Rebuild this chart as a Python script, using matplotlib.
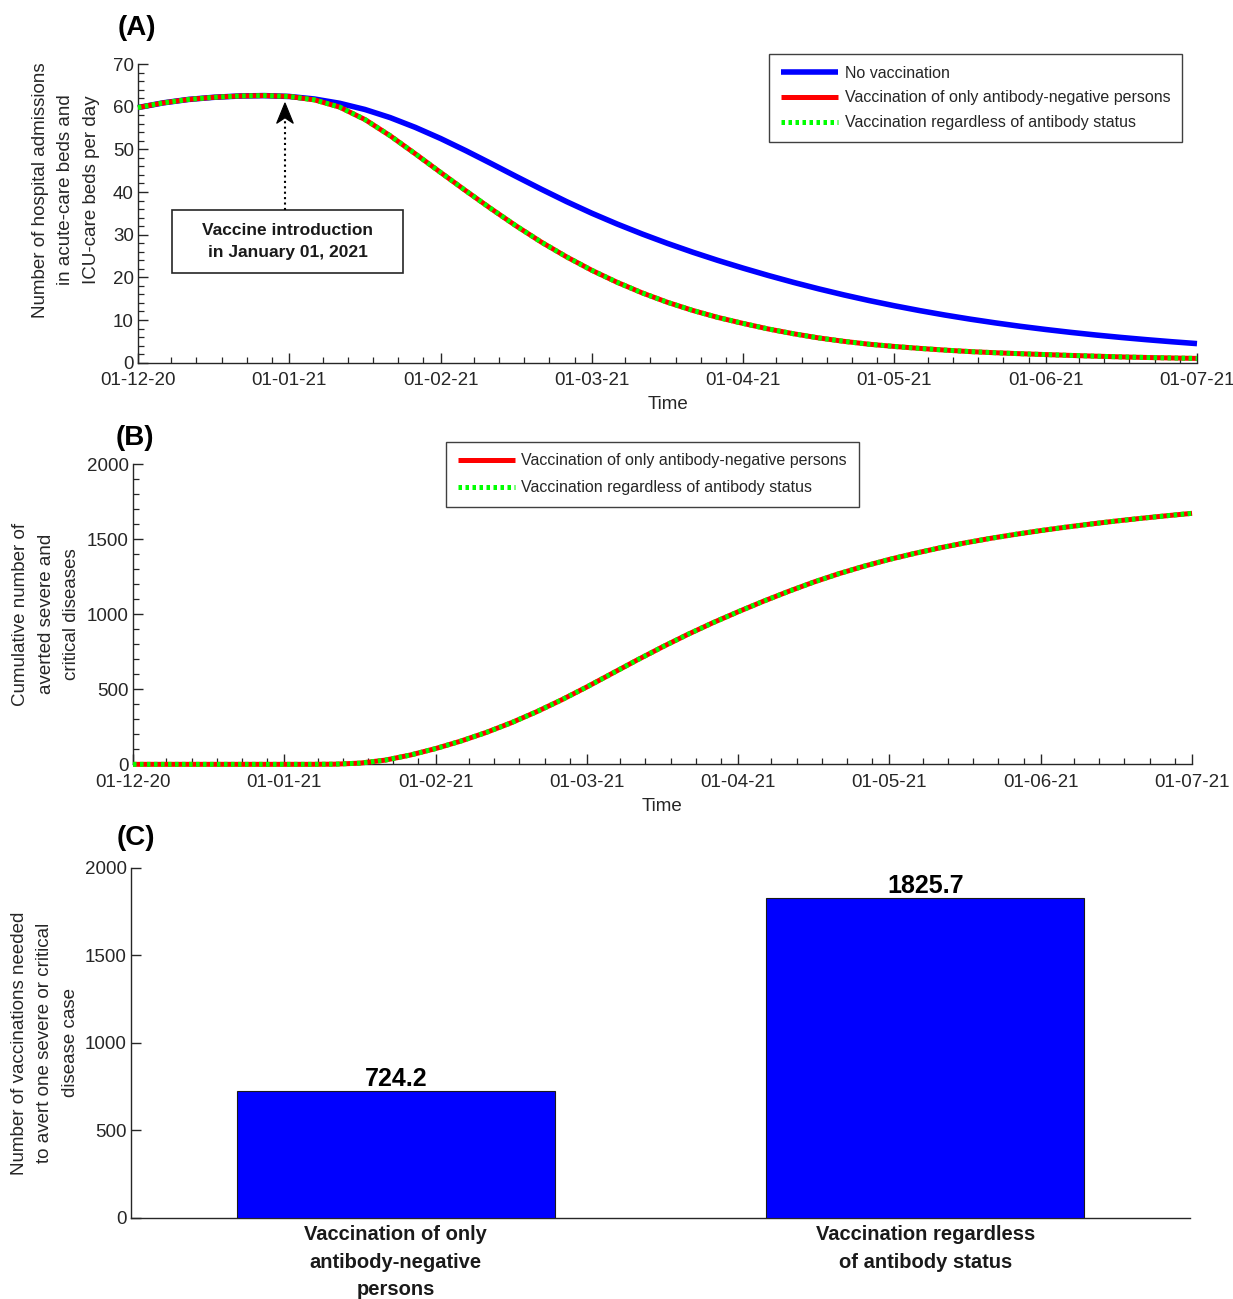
import numpy as np
import matplotlib
matplotlib.use("Agg")
import matplotlib.pyplot as plt
from matplotlib.patches import Rectangle, Polygon

plt.rcParams['font.family'] = ['Liberation Sans', 'DejaVu Sans']

# ---------------------------------------------------------------------------
# Data
# ---------------------------------------------------------------------------
# time in days since 1 December 2020, sampled every 5 days
days = np.arange(0, 211, 5)
month_ticks = np.arange(0, 211, 30)
month_labels = ['01-12-20', '01-01-21', '01-02-21', '01-03-21',
                '01-04-21', '01-05-21', '01-06-21', '01-07-21']

# daily hospital admissions (acute-care + ICU)
admissions_no_vacc = [59.8, 60.9, 61.7, 62.2, 62.5, 62.6, 62.4, 61.8, 60.8, 59.35,
                      57.45, 55.15, 52.55, 49.7, 46.7, 43.65, 40.65, 37.75, 35.03, 32.51,
                      30.16, 27.96, 25.90, 23.97, 22.16, 20.44, 18.82, 17.30, 15.88, 14.56,
                      13.34, 12.21, 11.17, 10.21, 9.33, 8.52, 7.78, 7.10, 6.48, 5.91,
                      5.39, 4.91, 4.47]
admissions_ab_negative = [59.8, 60.9, 61.7, 62.2, 62.5, 62.6, 62.4, 61.6, 59.9, 57.0,
                          53.2, 48.95, 44.6, 40.3, 36.1, 32.05, 28.25, 24.8, 21.65, 18.85,
                          16.35, 14.15, 12.25, 10.6, 9.2, 7.9, 6.78, 5.8, 5.0, 4.32,
                          3.8, 3.35, 2.95, 2.6, 2.33, 2.1, 1.9, 1.7, 1.52, 1.35,
                          1.22, 1.1, 1.0]
admissions_regardless = list(admissions_ab_negative)

# cumulative averted severe and critical disease cases
averted_ab_negative = [0, 0, 0, 0, 0, 0, 0, 0, 1, 8,
                       28, 62, 105, 155, 212, 277, 350, 430, 516, 606,
                       696, 783, 866, 944, 1017, 1087, 1153, 1215, 1271, 1321,
                       1366, 1406, 1443, 1476, 1506, 1533, 1558, 1581, 1602, 1622,
                       1640, 1657, 1673]
averted_regardless = list(averted_ab_negative)

# vaccinations needed to avert one severe or critical disease case
strategies = ['Vaccination of only\nantibody-negative\npersons',
              'Vaccination regardless\nof antibody status']
vacc_per_case = [724.2, 1825.7]

series_labels = ['No vaccination',
                 'Vaccination of only antibody-negative persons',
                 'Vaccination regardless of antibody status']

# ---------------------------------------------------------------------------
# Style
# ---------------------------------------------------------------------------
AX_COL = '#262626'
TICK_FS = 13.5
LABEL_FS = 13.5
LEG_FS = 11.5
BLUE = '#0000FF'
RED = '#FF0000'
GREEN = '#00FF00'
DOTS = (0, (0.7, 0.7))
YLAB_SPACING = 1.66


def style_axes(ax, minor_y=None, time_axis=True):
    for side in ('top', 'right'):
        ax.spines[side].set_visible(False)
    for side in ('left', 'bottom'):
        ax.spines[side].set_color(AX_COL)
        ax.spines[side].set_linewidth(1.0)
    ax.tick_params(which='major', direction='in', length=7, width=1.0,
                   colors=AX_COL, labelsize=TICK_FS)
    ax.tick_params(which='minor', direction='in', length=4, width=0.9,
                   colors=AX_COL)
    ax.tick_params(axis='x', which='major', pad=7)
    ax.tick_params(axis='y', which='major', pad=3)
    if minor_y is not None:
        ax.set_yticks(minor_y, minor=True)
    if time_axis:
        ax.set_xlim(0, 210)
        ax.set_xticks(month_ticks)
        ax.set_xticklabels(month_labels)
        minor_x = [m for m in np.arange(1.6, 210, 5)
                   if np.min(np.abs(m - month_ticks)) > 2]
        ax.set_xticks(minor_x, minor=True)


fig = plt.figure(figsize=(12.33, 12.99), dpi=100)

# ---------------------------------------------------------------------------
# (A) daily hospital admissions
# ---------------------------------------------------------------------------
axA = fig.add_axes([0.1119, 0.7208, 0.8589, 0.2299])
axA.plot(days, admissions_no_vacc, color=BLUE, lw=4.0, label=series_labels[0],
         clip_on=False, solid_capstyle='butt', solid_joinstyle='round', zorder=3)
axA.plot(days, admissions_ab_negative, color=RED, lw=3.6, label=series_labels[1],
         clip_on=False, solid_capstyle='butt', solid_joinstyle='round', zorder=4)
axA.plot(days, admissions_regardless, color=GREEN, lw=3.6, ls=DOTS,
         label=series_labels[2], clip_on=False, zorder=5)
axA.set_ylim(0, 70)
axA.set_yticks(np.arange(0, 71, 10))
style_axes(axA, minor_y=np.arange(0, 71, 2))
axA.set_ylabel('Number of hospital admissions\nin acute-care beds and\nICU-care beds per day',
               fontsize=LABEL_FS, color=AX_COL, linespacing=YLAB_SPACING)
axA.yaxis.set_label_coords(-0.036, 0.578)
axA.set_xlabel('Time', fontsize=LABEL_FS, color=AX_COL)
axA.xaxis.label.set_va('center')
axA.xaxis.set_label_coords(0.5005, -0.1416)

legA = axA.legend(loc='upper right', bbox_to_anchor=(0.9858, 1.0335),
                  borderaxespad=0, fontsize=LEG_FS, handlelength=3.6,
                  handletextpad=0.4, labelspacing=0.62, borderpad=0.72,
                  fancybox=False, framealpha=1, edgecolor='#404040')
legA.get_frame().set_linewidth(1.0)
for t in legA.get_texts():
    t.set_color(AX_COL)

# vaccine introduction marker
arrow_x = 29.15
axA.add_patch(Rectangle((6.74, 21.0), 45.8, 14.8, facecolor='white',
                        edgecolor=AX_COL, lw=1.2, zorder=6))
axA.text(29.65, 28.45, 'Vaccine introduction\nin January 01, 2021',
         ha='center', va='center', fontsize=12.5, fontweight='bold',
         color='#1a1a1a', linespacing=1.62, zorder=7)
axA.plot([arrow_x, arrow_x], [35.8, 57.0], color='black', lw=1.5,
         ls=(0, (1, 1.6)), zorder=6)
axA.add_patch(Polygon([(arrow_x, 60.9), (arrow_x - 1.65, 56.1),
                       (arrow_x, 57.4), (arrow_x + 1.65, 56.1)],
                      closed=True, facecolor='black', edgecolor='black',
                      lw=0.8, zorder=7))

# ---------------------------------------------------------------------------
# (B) cumulative averted severe and critical disease cases
# ---------------------------------------------------------------------------
axB = fig.add_axes([0.1079, 0.4116, 0.8589, 0.2310])
axB.plot(days, averted_ab_negative, color=RED, lw=3.6, label=series_labels[1],
         clip_on=False, solid_capstyle='butt', solid_joinstyle='round', zorder=4)
axB.plot(days, averted_regardless, color=GREEN, lw=3.6, ls=DOTS,
         label=series_labels[2], clip_on=False, zorder=5)
axB.set_ylim(0, 2000)
axB.set_yticks(np.arange(0, 2001, 500))
style_axes(axB, minor_y=np.arange(0, 2001, 100))
axB.set_ylabel('Cumulative number of\naverted severe and\ncritical diseases',
               fontsize=LABEL_FS, color=AX_COL, linespacing=YLAB_SPACING)
axB.yaxis.set_label_coords(-0.050, 0.5)
axB.set_xlabel('Time', fontsize=LABEL_FS, color=AX_COL)
axB.xaxis.label.set_va('center')
axB.xaxis.set_label_coords(0.4995, -0.142)

legB = axB.legend(loc='upper left', bbox_to_anchor=(0.2956, 1.0743),
                  borderaxespad=0, fontsize=LEG_FS, handlelength=3.6,
                  handletextpad=0.4, labelspacing=0.75, borderpad=0.72,
                  fancybox=False, framealpha=1, edgecolor='#404040')
legB.get_frame().set_linewidth(1.0)
for t in legB.get_texts():
    t.set_color(AX_COL)

# ---------------------------------------------------------------------------
# (C) vaccinations needed per averted case
# ---------------------------------------------------------------------------
axC = fig.add_axes([0.1062, 0.0624, 0.8589, 0.2694])
positions = [1, 2]
axC.bar(positions, vacc_per_case, width=0.6, color=BLUE, edgecolor='#1a1a1a',
        linewidth=0.8, zorder=3)
for xp, v in zip(positions, vacc_per_case):
    axC.annotate(f'{v:.1f}', xy=(xp, v), xytext=(0, 4), textcoords='offset points',
                 ha='center', va='baseline', fontsize=18, fontweight='bold',
                 color='black')
axC.set_xlim(0.5, 2.5)
axC.set_ylim(0, 2000)
axC.set_yticks(np.arange(0, 2001, 500))
style_axes(axC, time_axis=False)
axC.set_xticks(positions)
axC.set_xticklabels(strategies, fontsize=14.5, fontweight='bold', color='#1a1a1a',
                    linespacing=1.58)
axC.tick_params(axis='x', which='both', length=0, pad=5)
axC.set_ylabel('Number of vaccinations needed\nto avert one severe or critical\ndisease case',
               fontsize=LABEL_FS, color=AX_COL, linespacing=YLAB_SPACING)
axC.yaxis.set_label_coords(-0.049, 0.5)

# panel letters
fig.text(137 / 1233, 1 - 28 / 1299, '(A)', fontsize=20, fontweight='bold',
         ha='center', va='center')
fig.text(135 / 1233, 1 - 438 / 1299, '(B)', fontsize=20, fontweight='bold',
         ha='center', va='center')
fig.text(136 / 1233, 1 - 838 / 1299, '(C)', fontsize=20, fontweight='bold',
         ha='center', va='center')

fig.savefig('out.png', dpi=100, facecolor='white')
